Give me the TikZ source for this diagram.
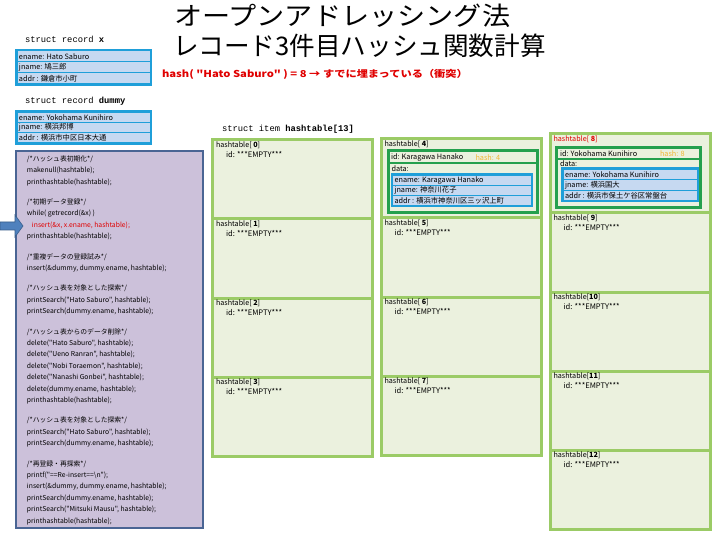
\documentclass[tikz,border=0pt]{standalone}
\usepackage{fontspec}
\setmainfont{Noto Sans CJK JP}[Ligatures=TeXOff]
\newfontfamily\monof{Liberation Mono}
\usetikzlibrary{calc}
\definecolor{cellgreen}{HTML}{9BCB66}
\definecolor{cellfill}{HTML}{EBF1DE}
\definecolor{dkgreen}{HTML}{25A04E}
\definecolor{recblue}{HTML}{1F9FD9}
\definecolor{rowfill}{HTML}{C6D9F1}
\definecolor{codefill}{HTML}{CCC1DA}
\definecolor{codeborder}{HTML}{4A6594}
\definecolor{arrowblue}{HTML}{4F81BD}
\definecolor{arrowedge}{HTML}{385D8A}
\definecolor{hashred}{HTML}{E00000}
\definecolor{hashorange}{HTML}{F2B632}
\newcommand\htcell[4]{%
  \node[cellbox] (#1) at (#2,#3) {};
  \node[cellfont] (#1-lbl) at ($(#1.north west)+(3.5,5)$) {#4};
}
\newcommand\emptyid[1]{\node[cellfont, font=\fontsize{7.6}{8}\selectfont] (#1-id) at ($(#1.north west)+(13.5,14.5)$) {id: ***EMPTY***};}
\newcommand\recbox[8]{%
  \node[blueframe, minimum width=#4 pt, minimum height=#5 pt] (#1) at (#2,#3) {};
  \pgfmathsetmacro\rrh{(#5-7)/3}\pgfmathsetmacro\rrw{#4-5}%
  \node[bluerow, minimum width=\rrw pt, minimum height=\rrh pt] (#1-a) at ($(#1.north west)+(2.5,2.5)$) {};
  \node[bluerow, minimum width=\rrw pt, minimum height=\rrh pt] (#1-b) at ($(#1-a.south west)+(0,1)$) {};
  \node[bluerow, minimum width=\rrw pt, minimum height=\rrh pt] (#1-c) at ($(#1-b.south west)+(0,1)$) {};
  \node[rowtext] (#1-at) at ($(#1-a.west)+(1.5,0)$) {#6};
  \node[rowtext] (#1-bt) at ($(#1-b.west)+(1.5,0)$) {#7};
  \node[rowtext] (#1-ct) at ($(#1-c.west)+(1.5,0)$) {#8};
}
\begin{document}
\begin{tikzpicture}[x=1pt,y=-1pt,
  every node/.style={inner sep=0pt, outer sep=0pt},
  cellbox/.style={draw=cellgreen, line width=3pt, fill=cellfill, minimum width=160pt, minimum height=79pt, anchor=north west},
  cellfont/.style={anchor=west, font=\fontsize{7.2}{8}\selectfont},
  rowtext/.style={anchor=west, font=\fontsize{7.3}{8}\selectfont},
  blueframe/.style={fill=recblue, anchor=north west},
  bluerow/.style={fill=rowfill, anchor=north west},
  itemframe/.style={fill=dkgreen, anchor=north west},
  itemrow/.style={fill=cellfill, anchor=north west},
  structfont/.style={anchor=west, font=\monof\fontsize{8.8}{10}\selectfont},
]
\useasboundingbox[fill=white] (0,0) rectangle (720,540);

% title
\node[anchor=west, font=\fontsize{25.6}{30}\selectfont] (title1) at (174,16) {\scalebox{1.1}[1]{オープンアドレッシング法}};
\node[anchor=west, font=\fontsize{25.6}{30}\selectfont] (title2) at (173,46) {レコード3件目ハッシュ関数計算};
\node[anchor=west, text=hashred, font=\bfseries\fontsize{9.5}{10}\selectfont] (hashnote) at (162,74) {\scalebox{1.18}[1]{hash( "Hato Saburo" ) = 8 → すでに埋まっている（衝突）}};

% struct record x
\node[structfont] (sx) at (25,39) {struct record \textbf{x}};
\recbox{recx}{15}{49}{137}{37}{ename: Hato Saburo}{jname: 鳩三郎}{addr : 鎌倉市小町}

% struct record dummy
\node[structfont] (sd) at (25,101) {struct record \textbf{dummy}};
\recbox{recd}{15}{110.5}{137}{34.5}{ename: Yokohama Kunihiro}{jname: 横浜邦博}{addr : 横浜市中区日本大通}

% code box
\node[draw=codeborder, line width=2pt, fill=codefill, minimum width=187pt, minimum height=377pt, anchor=north west] (codebox) at (16,151) {};
\node[anchor=north west, align=left, font=\fontsize{6.8}{11.4}\selectfont] (code) at (27,155.5) {%
/*ハッシュ表初期化*/\\
makenull(hashtable);\\
printhashtable(hashtable);\\[9pt]
/*初期データ登録*/\\
while( getrecord(\&x) )\\
\hspace*{5pt}\textcolor{hashred}{insert(\&x, x.ename, hashtable);}\\
printhashtable(hashtable);\\[9pt]
/*重複データの登録試み*/\\
insert(\&dummy, dummy.ename, hashtable);\\[9pt]
/*ハッシュ表を対象とした探索*/\\
printSearch("Hato Saburo", hashtable);\\
printSearch(dummy.ename, hashtable);\\[9pt]
/*ハッシュ表からのデータ削除*/\\
delete("Hato Saburo", hashtable);\\
delete("Ueno Ranran", hashtable);\\
delete("Nobi Toraemon", hashtable);\\
delete("Nanashi Gonbei", hashtable);\\
delete(dummy.ename, hashtable);\\
printhashtable(hashtable);\\[9pt]
/*ハッシュ表を対象とした探索*/\\
printSearch("Hato Saburo", hashtable);\\
printSearch(dummy.ename, hashtable);\\[9pt]
/*再登録・再探索*/\\
printf("==Re-insert==\textbackslash n");\\
insert(\&dummy, dummy.ename, hashtable);\\
printSearch(dummy.ename, hashtable);\\
printSearch("Mitsuki Mausu", hashtable);\\
printhashtable(hashtable);};

% arrow
\filldraw[fill=arrowblue, draw=arrowedge, line width=0.6pt] (0,222) -- (15,222) -- (15,215) -- (23,226) -- (15,237) -- (15,230) -- (0,230) -- cycle;

% hashtable header
\node[structfont] (sh) at (222,129) {struct item \textbf{hashtable[13]}};

% column 1
\htcell{c0}{212.5}{140}{hashtable[ \textbf{0}]}\emptyid{c0}
\htcell{c1}{212.5}{219}{hashtable[ \textbf{1}]}\emptyid{c1}
\htcell{c2}{212.5}{298}{hashtable[ \textbf{2}]}\emptyid{c2}
\htcell{c3}{212.5}{377}{hashtable[ \textbf{3}]}\emptyid{c3}
% column 2
\htcell{c4}{381}{139}{hashtable[ \textbf{4}]}
\htcell{c5}{381}{218}{hashtable[ \textbf{5}]}\emptyid{c5}
\htcell{c6}{381}{297}{hashtable[ \textbf{6}]}\emptyid{c6}
\htcell{c7}{381}{376}{hashtable[ \textbf{7}]}\emptyid{c7}
% column 3
\htcell{c8}{550}{134}{\textcolor{hashred}{hashtable[ \textbf{8}]}}
\htcell{c9}{550}{213}{hashtable[ \textbf{9}]}\emptyid{c9}
\htcell{c10}{550}{292}{hashtable[\textbf{10}]}\emptyid{c10}
\htcell{c11}{550}{371}{hashtable[\textbf{11}]}\emptyid{c11}
\htcell{c12}{550}{450}{hashtable[\textbf{12}]}\emptyid{c12}

% item in cell 4
\node[itemframe, minimum width=152pt, minimum height=65pt] (it4) at (386.5,149.5) {};
\node[itemrow, minimum width=146pt, minimum height=9.5pt] (it4-id) at (389.5,152.5) {};
\node[itemrow, minimum width=146pt, minimum height=47pt] (it4-data) at (389.5,164.5) {};
\node[rowtext] (it4-idt) at ($(it4-id.west)+(1.5,0)$) {id: Karagawa Hanako};
\node[rowtext, text=hashorange] (it4-hash) at ($(it4-id.west)+(86,0)$) {hash: 4};
\node[rowtext] (it4-dt) at (391.5,168.5) {data:};
\recbox{rec4}{390.5}{173.5}{142.5}{34}{ename: Karagawa Hanako}{jname: 神奈川花子}{addr : 横浜市神奈川区三ッ沢上町}

% item in cell 8
\node[itemframe, minimum width=147pt, minimum height=63pt] (it8) at (555,146.5) {};
\node[itemrow, minimum width=141pt, minimum height=8.5pt] (it8-id) at (558,149.5) {};
\node[itemrow, minimum width=141pt, minimum height=46pt] (it8-data) at (558,160.5) {};
\node[rowtext] (it8-idt) at ($(it8-id.west)+(2,0)$) {id: Yokohama Kunihiro};
\node[rowtext, text=hashorange] (it8-hash) at ($(it8-id.west)+(102,0)$) {hash: 8};
\node[rowtext] (it8-dt) at (560,163.8) {data:};
\recbox{rec8}{561}{167.5}{138}{35}{ename: Yokohama Kunihiro}{jname: 横浜国大}{addr : 横浜市保土ケ谷区常盤台}
\end{tikzpicture}
\end{document}
